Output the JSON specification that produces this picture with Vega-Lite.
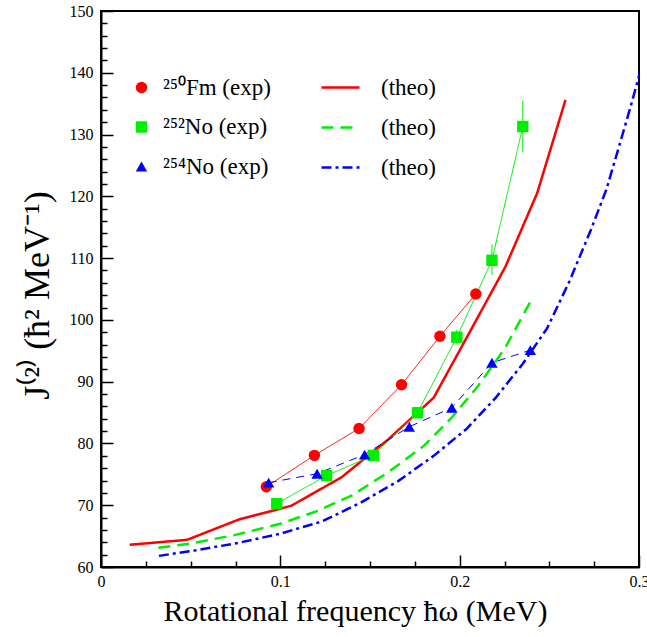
{
  "$schema": "https://vega.github.io/schema/vega-lite/v6.json",
  "width": 538,
  "height": 556,
  "autosize": "none",
  "padding": {"left": 101, "top": 11, "right": 8, "bottom": 70},
  "background": "white",
  "config": {
    "view": {"stroke": "black", "strokeWidth": 2},
    "font": "Liberation Serif",
    "axis": {"grid": false, "labelColor": "black", "titleColor": "black", "tickColor": "black", "domainColor": "black", "labelFont": "Liberation Serif", "titleFont": "Liberation Serif", "titleFontWeight": "normal"},
    "legend": {"labelFont": "Liberation Serif", "labelColor": "black"}
  },
  "datasets": {
    "exp": [
      {"nuc": "²⁵⁰Fm (exp)", "w": 0.0922, "j": 73.0},
      {"nuc": "²⁵⁰Fm (exp)", "w": 0.119, "j": 78.07},
      {"nuc": "²⁵⁰Fm (exp)", "w": 0.1439, "j": 82.43},
      {"nuc": "²⁵⁰Fm (exp)", "w": 0.1676, "j": 89.5},
      {"nuc": "²⁵⁰Fm (exp)", "w": 0.189, "j": 97.36},
      {"nuc": "²⁵⁰Fm (exp)", "w": 0.209, "j": 104.2},
      {"nuc": "²⁵²No (exp)", "w": 0.098, "j": 70.25},
      {"nuc": "²⁵²No (exp)", "w": 0.1258, "j": 74.8},
      {"nuc": "²⁵²No (exp)", "w": 0.1519, "j": 78.07},
      {"nuc": "²⁵²No (exp)", "w": 0.1765, "j": 84.97, "lo": 84.2, "hi": 85.7},
      {"nuc": "²⁵²No (exp)", "w": 0.1984, "j": 97.2, "lo": 96.0, "hi": 98.4},
      {"nuc": "²⁵²No (exp)", "w": 0.218, "j": 109.65, "lo": 107.3, "hi": 112.2},
      {"nuc": "²⁵²No (exp)", "w": 0.2352, "j": 131.3, "lo": 127.1, "hi": 135.5},
      {"nuc": "²⁵⁴No (exp)", "w": 0.0935, "j": 73.65},
      {"nuc": "²⁵⁴No (exp)", "w": 0.1205, "j": 75.1},
      {"nuc": "²⁵⁴No (exp)", "w": 0.147, "j": 78.2},
      {"nuc": "²⁵⁴No (exp)", "w": 0.1719, "j": 82.7},
      {"nuc": "²⁵⁴No (exp)", "w": 0.1956, "j": 85.78},
      {"nuc": "²⁵⁴No (exp)", "w": 0.218, "j": 93.06},
      {"nuc": "²⁵⁴No (exp)", "w": 0.2394, "j": 95.1}
    ],
    "theo": [
      {"model": "Fm250", "w": 0.016, "j": 63.6},
      {"model": "Fm250", "w": 0.048, "j": 64.4},
      {"model": "Fm250", "w": 0.077, "j": 67.7},
      {"model": "Fm250", "w": 0.106, "j": 69.9},
      {"model": "Fm250", "w": 0.134, "j": 74.5},
      {"model": "Fm250", "w": 0.16, "j": 80.6},
      {"model": "Fm250", "w": 0.1855, "j": 87.4},
      {"model": "Fm250", "w": 0.2065, "j": 98.5},
      {"model": "Fm250", "w": 0.2255, "j": 108.6},
      {"model": "Fm250", "w": 0.2432, "j": 120.5},
      {"model": "Fm250", "w": 0.259, "j": 135.6},
      {"model": "No252", "w": 0.032, "j": 63.1},
      {"model": "No252", "w": 0.05, "j": 63.8},
      {"model": "No252", "w": 0.075, "j": 65.2},
      {"model": "No252", "w": 0.1, "j": 67.0},
      {"model": "No252", "w": 0.12, "j": 69.0},
      {"model": "No252", "w": 0.14, "j": 71.6},
      {"model": "No252", "w": 0.16, "j": 75.3},
      {"model": "No252", "w": 0.18, "j": 79.6},
      {"model": "No252", "w": 0.195, "j": 84.0},
      {"model": "No252", "w": 0.21, "j": 89.2},
      {"model": "No252", "w": 0.225, "j": 95.3},
      {"model": "No252", "w": 0.2407, "j": 103.6},
      {"model": "No254", "w": 0.0323, "j": 61.8},
      {"model": "No254", "w": 0.0528, "j": 62.7},
      {"model": "No254", "w": 0.0765, "j": 63.9},
      {"model": "No254", "w": 0.1, "j": 65.4},
      {"model": "No254", "w": 0.123, "j": 67.35},
      {"model": "No254", "w": 0.1448, "j": 70.4},
      {"model": "No254", "w": 0.1657, "j": 73.9},
      {"model": "No254", "w": 0.1853, "j": 77.95},
      {"model": "No254", "w": 0.204, "j": 82.4},
      {"model": "No254", "w": 0.2204, "j": 87.5},
      {"model": "No254", "w": 0.2352, "j": 92.9},
      {"model": "No254", "w": 0.2488, "j": 98.65},
      {"model": "No254", "w": 0.2613, "j": 106.3},
      {"model": "No254", "w": 0.2732, "j": 114.6},
      {"model": "No254", "w": 0.2818, "j": 121.1},
      {"model": "No254", "w": 0.2885, "j": 127.7},
      {"model": "No254", "w": 0.2954, "j": 134.6},
      {"model": "No254", "w": 0.3005, "j": 140.0}
    ]
  },
  "layer": [
    {
      "data": {"name": "theo"},
      "mark": {"type": "line", "strokeWidth": 2.5, "clip": true},
      "encoding": {
        "x": {"field": "w", "type": "quantitative", "scale": {"domain": [0, 0.3], "nice": false, "zero": false},
          "axis": {"orient": "bottom", "values": [0, 0.1, 0.2, 0.3], "tickSize": -12, "tickWidth": 1.5, "domainWidth": 2, "labelFontSize": 16, "labelPadding": 18, "labelFlush": false, "labelExpr": "datum.value == 0 ? '0' : format(datum.value, '.1f')", "title": "Rotational frequency ħω (MeV)", "titleFontSize": 30, "titlePadding": 7, "titleX": 254}},
        "y": {"field": "j", "type": "quantitative", "scale": {"domain": [60, 150], "nice": false, "zero": false},
          "axis": {"orient": "left", "values": [60, 70, 80, 90, 100, 110, 120, 130, 140, 150], "tickSize": -12, "tickWidth": 1.5, "domainWidth": 2, "labelFontSize": 16, "labelPadding": 20, "labelFlush": false, "title": "J⁽²⁾ (ħ² MeV⁻¹)", "titleFontSize": 36, "titlePadding": 13, "titleY": 284}},
        "color": {"field": "model", "type": "nominal", "scale": {"domain": ["Fm250", "No252", "No254"], "range": ["#ff0000", "#00ee00", "#0000ff"]},
          "legend": {"title": null, "orient": "none", "legendX": 219, "legendY": 56, "labelExpr": "'(theo)'", "labelFontSize": 23, "symbolSize": 1444, "symbolStrokeWidth": 2.5, "rowPadding": 7, "labelOffset": 20, "padding": 0}},
        "strokeDash": {"field": "model", "type": "nominal", "scale": {"domain": ["Fm250", "No252", "No254"], "range": [[1, 0], [12, 7], [10, 4, 3, 4]]},
          "legend": {"title": null, "orient": "none", "legendX": 219, "legendY": 56, "labelExpr": "'(theo)'", "labelFontSize": 23, "symbolSize": 1444, "symbolStrokeWidth": 2.5, "rowPadding": 7, "labelOffset": 20, "padding": 0}}
      }
    },
    {
      "data": {"name": "exp"},
      "mark": {"type": "line", "strokeWidth": 1},
      "encoding": {
        "x": {"field": "w", "type": "quantitative", "axis": null},
        "y": {"field": "j", "type": "quantitative", "axis": null},
        "color": {"field": "nuc", "type": "nominal", "scale": {"domain": ["²⁵⁰Fm (exp)", "²⁵²No (exp)", "²⁵⁴No (exp)"], "range": ["#ff0000", "#00ee00", "#0000ff"]}, "legend": null},
        "strokeDash": {"field": "nuc", "type": "nominal", "scale": {"domain": ["²⁵⁰Fm (exp)", "²⁵²No (exp)", "²⁵⁴No (exp)"], "range": [[1, 0], [1, 0], [8, 6]]}, "legend": null}
      }
    },
    {
      "data": {"name": "exp"},
      "transform": [{"filter": "isValid(datum.lo)"}],
      "mark": {"type": "rule", "strokeWidth": 1, "color": "#00ee00"},
      "encoding": {
        "x": {"field": "w", "type": "quantitative", "axis": null},
        "y": {"field": "lo", "type": "quantitative", "axis": null},
        "y2": {"field": "hi"}
      }
    },
    {
      "data": {"name": "exp"},
      "mark": {"type": "point", "filled": true, "opacity": 1, "size": 130},
      "encoding": {
        "x": {"field": "w", "type": "quantitative",
          "axis": {"orient": "bottom", "values": [0.025, 0.05, 0.075, 0.125, 0.15, 0.175, 0.225, 0.25, 0.275], "tickSize": -6, "tickWidth": 1.5, "labels": false, "domain": false, "title": null}},
        "y": {"field": "j", "type": "quantitative",
          "axis": {"orient": "left", "values": [62, 64, 66, 68, 72, 74, 76, 78, 82, 84, 86, 88, 92, 94, 96, 98, 102, 104, 106, 108, 112, 114, 116, 118, 122, 124, 126, 128, 132, 134, 136, 138, 142, 144, 146, 148], "tickSize": -6, "tickWidth": 1.5, "labels": false, "domain": false, "title": null}},
        "color": {"field": "nuc", "type": "nominal", "scale": {"domain": ["²⁵⁰Fm (exp)", "²⁵²No (exp)", "²⁵⁴No (exp)"], "range": ["#ff0000", "#00ee00", "#0000ff"]},
          "legend": {"title": null, "orient": "none", "legendX": 29, "legendY": 65, "labelFontSize": 23, "symbolSize": 130, "rowPadding": 15.5, "labelOffset": 10, "padding": 0}},
        "shape": {"field": "nuc", "type": "nominal", "scale": {"domain": ["²⁵⁰Fm (exp)", "²⁵²No (exp)", "²⁵⁴No (exp)"], "range": ["circle", "square", "triangle-up"]},
          "legend": {"title": null, "orient": "none", "legendX": 29, "legendY": 65, "labelFontSize": 23, "symbolSize": 130, "rowPadding": 15.5, "labelOffset": 10, "padding": 0}}
      }
    }
  ],
  "resolve": {
    "scale": {"color": "independent", "strokeDash": "independent", "shape": "independent"},
    "axis": {"x": "independent", "y": "independent"}
  }
}
